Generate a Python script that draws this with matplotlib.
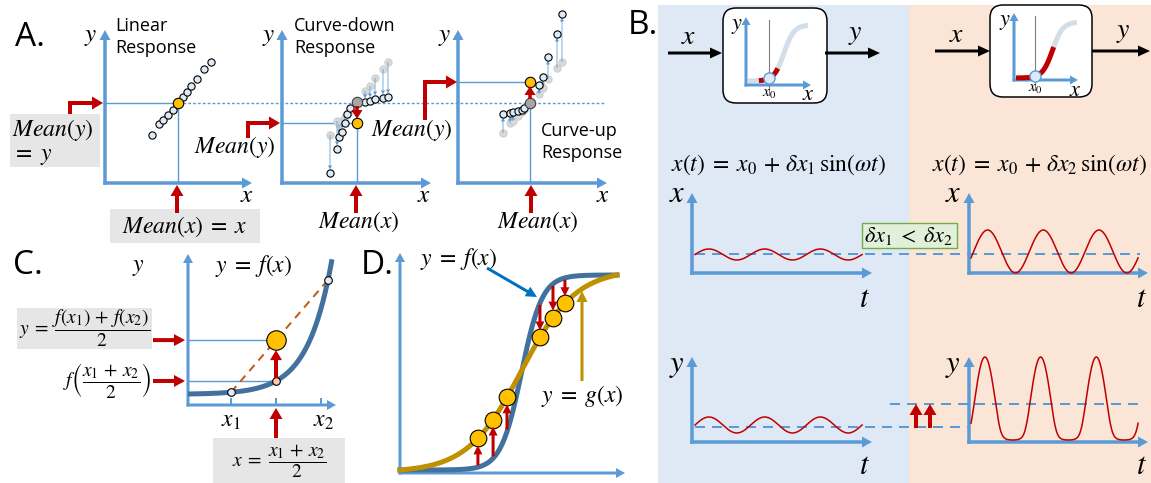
import numpy as np
import matplotlib
matplotlib.use('Agg')
import matplotlib.pyplot as plt
from matplotlib.patches import FancyBboxPatch, Rectangle

plt.rcParams['font.family'] = ['Open Sans', 'DejaVu Sans']
plt.rcParams['mathtext.fontset'] = 'stix'

# ---------------- data (pixel units) ----------------
# Panel A: scatter offsets from the mean point; dy positive = upwards
lin_dx = [-26, -19, -15, -10, -5, 5, 9, 13, 19, 26, 33]
lin_dy = [-32, -21, -17, -12, -7, 6, 11, 17, 24, 34, 41]
cd_dx = [-27, -20, -18, -15, -12, -10, -7, 8, 13, 18, 26, 31]
cd_dy_old = [-33, -19, -22, -19, -15, -12, -9, 11, 16, 24, 33, 40]
cd_dy_new = [-71, -47, -35, -30, -21, -12, -6, 0, 1, 3, 4, 5]
cu_dx = [-27, -20, -17, -12, -8, -6, 9, 13, 18, 27, 32]
cu_dy_old = [-30, -20, -18, -13, -9, -7, 9, 15, 24, 35, 41]
cu_dy_new = [-11, -10, -9, -8, -7, -5, 18, 26, 46, 69, 89]
panel_A_titles = ['Linear\nResponse', 'Curve-down\nResponse', 'Curve-up\nResponse']
mean_dy = [0, -21, 21]

# Panel B: sine-wave parameters
n_periods = 3
x_amp_small, x_amp_big = 5.5, 21.5
y_amp_small = 8
y_peak_height = 83
# Panel D: x positions of the sampled points on g(x) (fraction of axis width)
d_points_u = [0.359, 0.429, 0.493, 0.645, 0.705, 0.760]

BLUE = '#5b9bd5'
RED = '#c00000'
ORANGE = '#ffc000'
DARKBLUE = '#41719c'
GOLD = '#bf9000'
BOXGRAY = '#e6e6e6'

W, H = 1151, 483
fig = plt.figure(figsize=(W / 100, H / 100), dpi=100)
ax = fig.add_axes([0, 0, 1, 1])
PT = 0.72  # points per pixel


def arrow(x0, y0, x1, y1, color=BLUE, w=3.5, hw=11, hl=10, z=3):
    ax.arrow(x0, y0, x1 - x0, y1 - y0, width=w, head_width=hw, head_length=hl,
             length_includes_head=True, color=color, lw=0, zorder=z)


def axes_arrows(x0, y0, ytop, xright, w=3.5, hw=11, hl=10):
    arrow(x0, y0 + w / 2, x0, ytop, w=w, hw=hw, hl=hl)
    arrow(x0 - w / 2, y0, xright, y0, w=w, hw=hw, hl=hl)


def red_up(x, y0, y1, w=4, hw=13, hl=11):
    arrow(x, y0, x, y1, color=RED, w=w, hw=hw, hl=hl, z=6)


def red_L(x, ybot, ycorner, xtip):
    ax.plot([x, x], [ybot, ycorner - 2], color=RED, lw=4 * PT, solid_capstyle='butt', zorder=6)
    arrow(x - 2, ycorner, xtip, ycorner, color=RED, w=4, hw=13, hl=11, z=6)


def mtext(x, y, s, size=14, ha='center', va='center', **kw):
    ax.text(x, y, s, fontsize=size, ha=ha, va=va, **kw)


# ---------------- Panel B backgrounds ----------------
ax.add_patch(Rectangle((658, 5), 251, 478, color='#dfe9f5', lw=0, zorder=0))
ax.add_patch(Rectangle((909, 5), 242, 478, color='#fbe5d6', lw=0, zorder=0))

# ---------------- Panel A ----------------
mtext(30, 37, 'A.', size=24)
origins = [(105, 183), (282, 183), (458, 183)]
xrights = [252, 431, 607]
centers = [(178, 103), (357, 102), (530, 103)]
for (ox, oy), xr in zip(origins, xrights):
    axes_arrows(ox, oy, 30, xr)

ax.text(115, 37, panel_A_titles[0], fontsize=13, ha='left', va='center', linespacing=1.35)
ax.text(294, 37, panel_A_titles[1], fontsize=13, ha='left', va='center', linespacing=1.35)
ax.text(541, 142, panel_A_titles[2], fontsize=13, ha='left', va='center', linespacing=1.35)
for yx, yy in [(91, 36), (269, 36), (445, 35)]:
    mtext(yx, yy, r'$y$', size=18)
for xx, xy in [(247, 196), (424, 196), (603, 195)]:
    mtext(xx, xy, r'$x$', size=18)

# dotted reference line of the linear mean
ax.plot([178, 605], [103, 103], color=BLUE, lw=1.0, dashes=(2, 1.5), zorder=1)

circ = dict(ls='none', marker='o', ms=5.2, mfc='#deebf7', mec='black', mew=0.8, zorder=5)
gcirc = dict(ls='none', marker='o', ms=5.2, mfc='#d9d9d9', mec='#cfcfcf', mew=0.8, zorder=4)

# linear
cx, cy = centers[0]
ax.plot([origins[0][0], cx], [cy, cy], color=BLUE, lw=1, zorder=2)
ax.plot([cx, cx], [cy, origins[0][1]], color=BLUE, lw=1, zorder=2)
ax.plot([cx + d for d in lin_dx], [cy - d for d in lin_dy], **circ)
ax.plot([cx], [cy], ls='none', marker='o', ms=7.5, mfc=ORANGE, mec='black', mew=0.8, zorder=6)

# curved panels
for k, (dx, dold, dnew) in enumerate([(cd_dx, cd_dy_old, cd_dy_new), (cu_dx, cu_dy_old, cu_dy_new)], start=1):
    cx, cy = centers[k]
    my = cy - mean_dy[k]
    ax.plot([origins[k][0], cx], [my, my], color=BLUE, lw=1, zorder=2)
    ax.plot([cx, cx], [my, origins[k][1]], color=BLUE, lw=1, zorder=2)
    ax.plot([cx + d for d in dx], [cy - d for d in dold], **gcirc)
    for d, a, b in zip(dx, dold, dnew):
        if abs(a - b) > 5:
            sgn = 1 if b > a else -1   # +1: new point is higher (arrow points up on screen)
            arrow(cx + d, cy - a, cx + d, cy - b + sgn * 3.5, color=BLUE, w=0.8, hw=4, hl=4, z=4)
    ax.plot([cx + d for d in dx], [cy - d for d in dnew], **circ)
    ax.plot([cx], [cy], ls='none', marker='o', ms=7.5, mfc='#a6a6a6', mec='#404040', mew=0.8, zorder=6)
    ax.plot([cx], [my], ls='none', marker='o', ms=7.5, mfc=ORANGE, mec='black', mew=0.8, zorder=6)
    step = 4 if my > cy else -4
    arrow(cx, cy + step, cx, my - step, color=RED, w=3.5, hw=11, hl=9, z=7)

# red arrows panel A
for x in [177, 356, 531]:
    red_up(x, 213, 185)
red_L(70, 114, 103, 103)
red_L(248, 138, 123, 280)
red_L(425, 120, 82, 457)

ax.add_patch(Rectangle((10, 114), 90, 53, color=BOXGRAY, lw=0, zorder=1))
mtext(12, 130, r'$Mean(y)$', size=17, ha='left')
mtext(12, 155, r'$=\ y$', size=17, ha='left')
ax.add_patch(Rectangle((110, 209), 150, 34, color=BOXGRAY, lw=0, zorder=1))
mtext(185, 227, r'$Mean(x)\;=\;x$', size=17)
mtext(235, 147, r'$Mean(y)$', size=17)
mtext(412, 130, r'$Mean(y)$', size=17)
mtext(359, 222, r'$Mean(x)$', size=17)
mtext(538, 222, r'$Mean(x)$', size=17)

# ---------------- Panel C ----------------
mtext(28, 266, 'C.', size=24)
mtext(138, 266, r'$y$', size=17)
mtext(254, 266, r'$y\;=\;f(x)$', size=17)
cxo, cyo = 188, 405
axes_arrows(cxo, cyo, 254, 336, w=3, hw=10, hl=9)
x1p, xmp, x2p = 231, 276, 321
for tx in [x1p, xmp, x2p]:
    ax.plot([tx, tx], [399, 405], color=BLUE, lw=2 * PT, zorder=3)
xs = np.linspace(188, 332, 200)
fC = lambda x: 394 - 0.353 * (np.exp(0.0413 * (x - 188)) - 1)
ax.plot(xs, fC(xs), color=DARKBLUE, lw=5 * PT, solid_capstyle='butt', zorder=4)
ax.plot([x1p, 328], [fC(x1p), fC(328)], color='#c55a11', lw=2 * PT, dashes=(4, 3), zorder=5)
ymid_chord = fC(x1p) + (fC(328) - fC(x1p)) * (xmp - x1p) / (328 - x1p)
ax.plot([cxo, xmp], [fC(xmp), fC(xmp)], color=BLUE, lw=1, zorder=2)
ax.plot([cxo, xmp - 8], [ymid_chord, ymid_chord], color=BLUE, lw=1, zorder=2)
ax.plot([x1p, 328], [fC(x1p), fC(328)], ls='none', marker='o', ms=5.5, mfc='#deebf7', mec='black', mew=0.8, zorder=6)
ax.plot([xmp], [fC(xmp)], ls='none', marker='o', ms=5.5, mfc='#f8cbad', mec='black', mew=0.8, zorder=6)
ax.plot([xmp], [ymid_chord], ls='none', marker='o', ms=14, mfc=ORANGE, mec='black', mew=0.8, zorder=6)
red_up(xmp, fC(xmp) - 3, ymid_chord + 10, w=4, hw=12, hl=10)
red_up(xmp, 438, 408)
arrow(153, ymid_chord, 185, ymid_chord, color=RED, w=4, hw=12, hl=11, z=6)
arrow(153, fC(xmp), 185, fC(xmp), color=RED, w=4, hw=12, hl=11, z=6)
mtext(x1p, 421, r'$x_1$', size=17)
mtext(x2p + 2, 421, r'$x_2$', size=17)
ax.add_patch(Rectangle((17, 308), 135, 41, color=BOXGRAY, lw=0, zorder=1))
mtext(85, 328, r'$y\;=\;\dfrac{f(x_1)\,+\,f(x_2)}{2}$', size=14)
mtext(152, 380, r'$f\left(\dfrac{x_1\,+\,x_2}{2}\right)$', size=14, ha='right')
ax.add_patch(Rectangle((213, 438), 132, 45, color=BOXGRAY, lw=0, zorder=1))
mtext(279, 461, r'$x\;=\;\dfrac{x_1\,+\,x_2}{2}$', size=14)

# ---------------- Panel D ----------------
mtext(377, 266, 'D.', size=24)
dxo, dyo, dxr, dyt = 400, 473, 625, 253
axes_arrows(dxo, dyo, dyt, dxr, w=3, hw=10, hl=9)
x_left, x_right, y_low, y_span = 400, 617, 470, 195
u = np.linspace(0, 1, 300)


def logistic(z):
    return 1 / (1 + np.exp(-z))


def fD(uu):
    return logistic(21 * (np.asarray(uu) - 0.56))


def gD(uu):
    l0, l1 = logistic(8 * (0 - 0.56)), logistic(8 * (1 - 0.56))
    return (logistic(8 * (np.asarray(uu) - 0.56)) - l0) / (l1 - l0)


px = x_left + u * (x_right - x_left)
ax.plot(px, y_low - y_span * fD(u), color=DARKBLUE, lw=5 * PT, zorder=4)
ax.plot(px, y_low - y_span * gD(u), color=GOLD, lw=5 * PT, zorder=4)
for uu in d_points_u:
    xx = x_left + uu * (x_right - x_left)
    yf = y_low - y_span * fD(uu)
    yg = y_low - y_span * gD(uu)
    if yf > yg:
        red_up(xx, yf - 2, yg + 7, w=3, hw=9, hl=9)
    else:
        red_up(xx, yf + 2, yg - 7, w=3, hw=9, hl=9)
    ax.plot([xx], [yg], ls='none', marker='o', ms=12, mfc=ORANGE, mec='black', mew=0.8, zorder=5)
mtext(459, 259, r'$y\;=\;f(x)$', size=17)
arrow(487, 268, 537, 297, color='#0070c0', w=3, hw=11, hl=11, z=7)
mtext(582, 396, r'$y\;=\;g(x)$', size=17)
arrow(582, 381, 582, 291, color=GOLD, w=3, hw=11, hl=11, z=7)

# ---------------- Panel B ----------------
mtext(643, 26, 'B.', size=24)
for (xa, xb, yarr, xlab, ylab) in [((668, 722), (825, 880), 53, (689, 37), (855, 33)),
                                   ((935, 990), (1092, 1150), 51, (957, 35), (1123, 31))]:
    arrow(xa[0], yarr, xa[1], yarr, color='black', w=3, hw=11, hl=12)
    arrow(xb[0], yarr, xb[1], yarr, color='black', w=3, hw=11, hl=12)
    mtext(xlab[0], xlab[1], r'$x$', size=20)
    mtext(ylab[0], ylab[1], r'$y$', size=20)

boxes = [(723, 8, 104, 95), (990, 5, 102, 92)]
minis = [dict(ax0=746, ay0=85, top=17, right=811, x0=748, x1=808, yb=81, yh=56, xc=769,
              red=[(0.18, 0.27), (0.42, 0.5)]),
         dict(ax0=1014, ay0=80, top=13, right=1078, x0=1016, x1=1077, yb=78, yh=56, xc=1035,
              red=[(0.0, 0.62)])]
for (bx, by, bw, bh), m in zip(boxes, minis):
    ax.add_patch(FancyBboxPatch((bx, by), bw, bh, boxstyle='round,pad=0,rounding_size=13',
                                fc='white', ec='black', lw=1.5 * PT, zorder=2))
    uu = np.linspace(0, 1, 150)
    sx = m['x0'] + uu * (m['x1'] - m['x0'])
    sy = m['yb'] - m['yh'] * logistic(12 * (uu - 0.6))
    ax.plot(sx, sy, color='#d3dee9', lw=5 * PT, solid_capstyle='butt', zorder=3)
    for r0, r1 in m['red']:
        sel = (uu >= r0) & (uu <= r1)
        ax.plot(sx[sel], sy[sel], color=RED, lw=5 * PT, solid_capstyle='butt', zorder=4)
    axes_arrows(m['ax0'], m['ay0'], m['top'], m['right'], w=3, hw=9, hl=8)
    ax.plot([m['xc'], m['xc']], [m['top'] + 3, m['ay0'] + 10], color='#7f7f7f', lw=0.8, zorder=3)
    ucx = (m['xc'] - m['x0']) / (m['x1'] - m['x0'])
    ax.plot([m['xc']], [m['yb'] - m['yh'] * logistic(12 * (ucx - 0.6))], ls='none', marker='o', ms=8,
            mfc='#deebf7', mec=BLUE, mew=1, zorder=6)
    mtext(m['xc'], m['ay0'] + 9, r'$x_0$', size=11)
    mtext(m['right'] - 3, m['ay0'] + 10, r'$x$', size=16)
    mtext(m['ax0'] - 9, m['top'] + 9, r'$y$', size=16)

mtext(778, 165, r'$x(t)\;=\;x_0\,+\,\delta x_1\,\sin(\omega t)$', size=17)
mtext(1039, 165, r'$x(t)\;=\;x_0\,+\,\delta x_2\,\sin(\omega t)$', size=17)

plots = [(692, 273, 193, 872), (969, 273, 193, 1148), (692, 442, 357, 872), (969, 442, 357, 1148)]
for (ox, oy, top, xr) in plots:
    axes_arrows(ox, oy, top, xr, w=3.5, hw=11, hl=10)
for (lx, ly, s) in [(677, 202, 'x'), (953, 202, 'x'), (677, 372, 'y'), (953, 372, 'y'),
                    (865, 307, 't'), (1142, 307, 't'), (865, 474, 't'), (1142, 474, 't')]:
    ax.text(lx, ly, r'$%s$' % s, fontsize=22, ha='center', va='baseline')

# dashed mean lines
ax.plot([695, 1140], [254, 254], color=BLUE, lw=2 * PT, dashes=(5, 3.5), zorder=3)
ax.plot([695, 968], [427, 427], color=BLUE, lw=2 * PT, dashes=(5, 3.5), zorder=3)
ax.plot([890, 1140], [404, 404], color=BLUE, lw=2 * PT, dashes=(5, 3.5), zorder=3)

tt = np.linspace(0, n_periods, 600)
per = 55.7
ph = 2 * np.pi * tt
s = np.sin(ph)
ax.plot(695 + tt * per, 254.5 - x_amp_small * s, color=RED, lw=1.1, zorder=4)
ax.plot(971 + tt * per, 251.5 - x_amp_big * np.sin(ph - 0.3), color=RED, lw=1.1, zorder=4)
ax.plot(695 + tt * per, 425 - y_amp_small * s, color=RED, lw=1.1, zorder=4)
# saturating response: flat troughs, rounded peaks
kk, s0 = 4.0, -0.1
sp = np.log1p(np.exp(kk * (s - s0)))
lo, hi = np.log1p(np.exp(kk * (-1 - s0))), np.log1p(np.exp(kk * (1 - s0)))
ax.plot(971 + tt * per, 440 - y_peak_height * (sp - lo) / (hi - lo), color=RED, lw=1.1, zorder=4)

for x in [916, 930]:
    arrow(x, 428, x, 404, color=RED, w=4, hw=13, hl=11, z=6)

ax.add_patch(Rectangle((862, 223), 95, 25, fc='#e2efda', ec='#70ad47', lw=1, zorder=5))
mtext(909, 236, r'$\delta x_1\;<\;\delta x_2$', size=16, zorder=6)

ax.set_xlim(0, W)
ax.set_ylim(H, 0)
ax.axis('off')
fig.savefig('out.png', dpi=100)
